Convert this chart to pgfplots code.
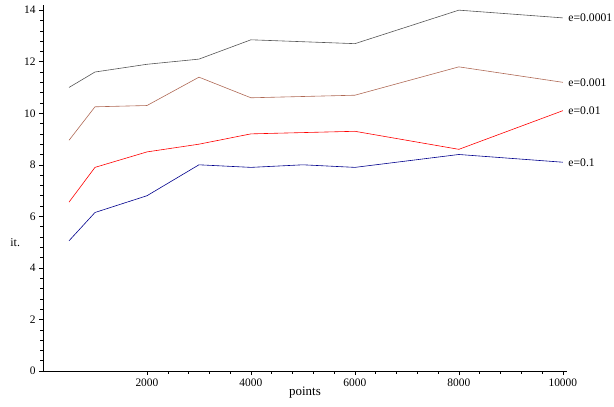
\documentclass[border=0pt]{standalone}
\usepackage{pgfplots}
\pgfplotsset{compat=1.18}
\usepackage{fontspec}
\setmainfont{Liberation Serif}
\definecolor{cgray}{RGB}{85,85,85}
\definecolor{cbrown}{RGB}{175,105,85}
\definecolor{cred}{RGB}{255,0,0}
\definecolor{cblue}{RGB}{0,0,140}
\begin{document}
\begin{tikzpicture}
\begin{axis}[
  scale only axis,
  width=524bp, height=366bp,
  xmin=0, xmax=10080, ymin=0, ymax=14.2,
  axis lines=left,
  axis line style={-, black, line width=0.6pt},
  xtick={2000,4000,...,10000},
  ytick={0,2,...,14},
  scaled ticks=false,
  minor x tick num=4,
  minor y tick num=4,
  tick align=outside,
  major tick length=4bp,
  minor tick length=2.5bp,
  tick style={black, line width=0.5pt},
  /pgf/number format/assume math mode=true,
  /pgf/number format/set thousands separator={},
  tick label style={font=\fontsize{11.5}{13}\selectfont},
  xticklabel style={yshift=0bp},
  yticklabel style={xshift=0bp},
  xlabel={points}, ylabel={it.},
  xlabel style={at={(axis description cs:0.5,-0.058)}, anchor=center, font=\fontsize{13}{15}\selectfont},
  ylabel style={at={(axis description cs:-0.053,0.352)}, anchor=center, rotate=-90, font=\fontsize{12}{14}\selectfont},
  clip=false,
  every axis plot/.append style={line width=0.6pt},
]
\addplot[cgray] coordinates {(500,11.0) (1000,11.6) (2000,11.9) (3000,12.1) (4000,12.85) (6000,12.7) (8000,14.0) (10000,13.7)}
  node[pos=1, right, text=black, font=\fontsize{11.7}{13}\selectfont, xshift=2bp] {e=0.0001};
\addplot[cbrown] coordinates {(500,8.95) (1000,10.25) (2000,10.3) (3000,11.4) (4000,10.6) (6000,10.7) (8000,11.8) (10000,11.2)}
  node[pos=1, right, text=black, font=\fontsize{11.7}{13}\selectfont, xshift=2bp] {e=0.001};
\addplot[cred] coordinates {(500,6.55) (1000,7.9) (2000,8.5) (3000,8.8) (4000,9.2) (5000,9.25) (6000,9.3) (8000,8.6) (10000,10.1)}
  node[pos=1, right, text=black, font=\fontsize{11.7}{13}\selectfont, xshift=2bp] {e=0.01};
\addplot[cblue] coordinates {(500,5.05) (1000,6.15) (2000,6.8) (3000,8.0) (4000,7.9) (5000,8.0) (6000,7.9) (8000,8.4) (10000,8.1)}
  node[pos=1, right, text=black, font=\fontsize{11.7}{13}\selectfont, xshift=2bp] {e=0.1};
\end{axis}
\pgfresetboundingbox
\path[use as bounding box] ([shift={(-43bp,-36bp)}]current axis.south west) rectangle ([shift={(571bp,371bp)}]current axis.south west);
\end{tikzpicture}
\end{document}
